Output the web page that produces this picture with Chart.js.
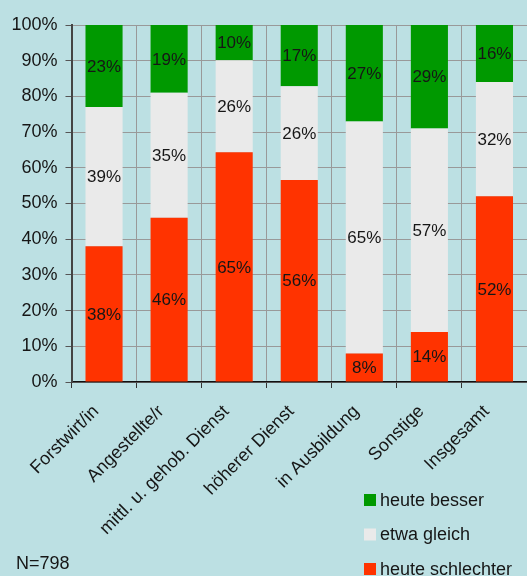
<!DOCTYPE html>
<html lang="de">
<head>
    <meta charset="UTF-8">
    <title>Vergleich heute</title>
    <script src="https://cdn.jsdelivr.net/npm/chart.js"></script>
    <style>
        body { margin: 0; padding: 0; background: #bce0e3; }
        #wrap { width: 527px; height: 576px; }
    </style>
</head>
<body>
    <div id="wrap"><canvas id="chart" width="527" height="576"></canvas></div>

    <script>
        const categories = ['Forstwirt/in', 'Angestellte/r', 'mittl. u. gehob. Dienst', 'höherer Dienst', 'in Ausbildung', 'Sonstige', 'Insgesamt'];
        const schlechter = [38, 46, 65, 56, 8, 14, 52];
        const gleich = [39, 35, 26, 26, 65, 57, 32];
        const besser = [23, 19, 10, 17, 27, 29, 16];
        const yTicks = [0, 10, 20, 30, 40, 50, 60, 70, 80, 90, 100];
        const sampleNote = 'N=798';

        const FONT = '"Liberation Sans", Arial, sans-serif';
        const TEXT = '#161616';

        // 100% stacked: each bar is scaled to its own total
        function share(arr, i) {
            const total = schlechter[i] + gleich[i] + besser[i];
            return arr[i] / total * 100;
        }
        const raw = [schlechter, gleich, besser];

        const labelPlugin = {
            id: 'segLabels',
            afterDatasetsDraw(chart) {
                const ctx = chart.ctx;
                ctx.save();
                ctx.font = '17px ' + FONT;
                ctx.fillStyle = TEXT;
                ctx.textAlign = 'center';
                ctx.textBaseline = 'middle';
                chart.data.datasets.forEach((ds, d) => {
                    chart.getDatasetMeta(d).data.forEach((bar, i) => {
                        const y = (bar.y + bar.base) / 2;
                        ctx.fillText(raw[d][i] + '%', bar.x, y + 1);
                    });
                });
                ctx.restore();
            },
            afterDraw(chart) {
                const ctx = chart.ctx;
                ctx.save();
                ctx.font = '18px ' + FONT;
                ctx.fillStyle = TEXT;
                ctx.textBaseline = 'middle';
                ctx.textAlign = 'left';
                ctx.fillText(sampleNote, 16, 564);
                // legend, top entry is the top segment
                const items = chart.data.datasets.slice().reverse();
                items.forEach((ds, k) => {
                    const y = 500 + k * 34.5;
                    ctx.fillStyle = ds.backgroundColor;
                    ctx.fillRect(364, y - 6, 12, 12);
                    ctx.fillStyle = TEXT;
                    ctx.fillText(ds.label, 380, y + 1);
                });
                ctx.restore();
            }
        };

        const ctx = document.getElementById('chart').getContext('2d');
        const chart = new Chart(ctx, {
            type: 'bar',
            data: {
                labels: categories,
                datasets: [
                    { label: 'heute schlechter', data: categories.map((c, i) => share(schlechter, i)), backgroundColor: '#ff3300' },
                    { label: 'etwa gleich', data: categories.map((c, i) => share(gleich, i)), backgroundColor: '#eaeaea' },
                    { label: 'heute besser', data: categories.map((c, i) => share(besser, i)), backgroundColor: '#009900' }
                ]
            },
            options: {
                responsive: false,
                animation: false,
                layout: { padding: { top: 25, right: 0, left: 0, bottom: 0 } },
                datasets: { bar: { categoryPercentage: 1, barPercentage: 0.57 } },
                plugins: { legend: { display: false }, tooltip: { enabled: false } },
                scales: {
                    x: {
                        stacked: true,
                        afterFit(scale) { scale.height = 194; },
                        grid: { color: '#999', tickColor: '#333', tickLength: 6, offset: true },
                        border: { color: '#111', width: 1.5 },
                        ticks: {
                            color: TEXT, font: { family: FONT, size: 18 },
                            maxRotation: 45, minRotation: 45, padding: 13, labelOffset: -8
                        }
                    },
                    y: {
                        stacked: true,
                        min: 0, max: 100,
                        afterFit(scale) { scale.width = 71.5; },
                        afterBuildTicks(scale) { scale.ticks = yTicks.map(v => ({ value: v })); },
                        grid: { color: '#999', tickColor: '#555', tickLength: 6 },
                        border: { color: '#444', width: 2 },
                        ticks: {
                            color: TEXT, font: { family: FONT, size: 18 }, padding: 8,
                            callback: v => v + '%'
                        }
                    }
                }
            },
            plugins: [labelPlugin]
        });
    </script>
</body>
</html>
